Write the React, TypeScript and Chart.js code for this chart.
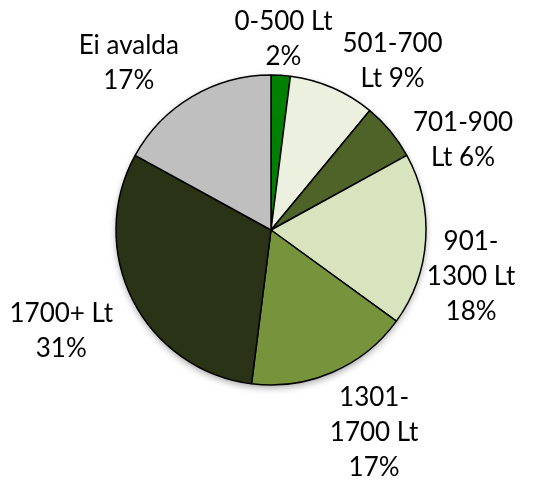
import React, { useEffect, useRef } from "react";
import { Chart, registerables } from "chart.js";

Chart.register(...registerables);

const categories = ["0-500 Lt", "501-700 Lt", "701-900 Lt", "901-1300 Lt", "1301-1700 Lt", "1700+ Lt", "Ei avalda"];
const shares = [2, 9, 6, 18, 17, 31, 17];
const sliceColors = ["#008000", "#EBF1DE", "#4F6228", "#D7E4BD", "#77933C", "#2A3316", "#BFBFBF"];

const FONT = "26px Lato, 'Open Sans', sans-serif";
const LINE_H = 35;
const WRAP_W = 108;
const GAP = 6;
const labelNudge: number[][] = [[0, 8], [37, 27], [21, 52], [-8, 34], [13, -5], [-11, 0], [-32, 20]];

function wrap(ctx: CanvasRenderingContext2D, text: string): string[] {
  const tokens = text.match(/[^\s-]+-?\s*/g) || [text];
  const lines: string[] = [];
  let cur = "";
  for (const t of tokens) {
    const cand = cur + t;
    if (cur && ctx.measureText(cand.trim()).width > WRAP_W) {
      lines.push(cur.trim());
      cur = t;
    } else {
      cur = cand;
    }
  }
  if (cur.trim()) lines.push(cur.trim());
  return lines;
}

const shadowPlugin = {
  id: "pieShadow",
  beforeDatasetsDraw(chart: any) {
    const meta = chart.getDatasetMeta(0);
    const arc = meta.data[0];
    if (!arc) return;
    const { x, y, outerRadius } = arc.getProps(["x", "y", "outerRadius"], true);
    const ctx = chart.ctx;
    ctx.save();
    ctx.shadowColor = "rgba(0,0,0,0.35)";
    ctx.shadowBlur = 7;
    ctx.shadowOffsetY = 3;
    ctx.fillStyle = "#fff";
    ctx.beginPath();
    ctx.arc(x, y, outerRadius, 0, Math.PI * 2);
    ctx.fill();
    ctx.restore();
  },
};

const labelPlugin = {
  id: "outLabels",
  afterDatasetsDraw(chart: any) {
    const ctx: CanvasRenderingContext2D = chart.ctx;
    const meta = chart.getDatasetMeta(0);
    const total = shares.reduce((a, b) => a + b, 0);
    ctx.save();
    ctx.font = FONT;
    ctx.fillStyle = "#000";
    ctx.textAlign = "center";
    ctx.textBaseline = "middle";
    meta.data.forEach((arc: any, i: number) => {
      const { x, y, startAngle, endAngle, outerRadius } = arc.getProps(
        ["x", "y", "startAngle", "endAngle", "outerRadius"],
        true
      );
      const mid = (startAngle + endAngle) / 2;
      const dx = Math.cos(mid);
      const dy = Math.sin(mid);
      const pct = Math.round((shares[i] / total) * 100) + "%";
      const lines = wrap(ctx, categories[i] + " " + pct);
      const w = Math.max(...lines.map((l) => ctx.measureText(l).width));
      const h = lines.length * LINE_H;
      const d = outerRadius + GAP + (Math.abs(dx) * w) / 2 + (Math.abs(dy) * h) / 2;
      const cx = x + dx * d + labelNudge[i][0];
      const cy = y + dy * d + labelNudge[i][1];
      lines.forEach((l, k) => ctx.fillText(l, cx, cy - h / 2 + LINE_H * (k + 0.5)));
    });
    ctx.restore();
  },
};

export default function App() {
  const ref = useRef<HTMLCanvasElement | null>(null);
  useEffect(() => {
    document.body.style.margin = "0";
    const canvas = ref.current;
    if (!canvas) return;
    const chart = new Chart(canvas, {
      type: "pie",
      data: {
        labels: categories,
        datasets: [
          {
            data: shares,
            backgroundColor: sliceColors,
            borderColor: "#000",
            borderWidth: 1.5,
          },
        ],
      },
      options: {
        responsive: false,
        animation: false,
        radius: 155,
        layout: { padding: { left: 4, right: 0, top: 0, bottom: 23 } },
        plugins: {
          legend: { display: false },
          tooltip: { enabled: false },
        },
      } as any,
      plugins: [shadowPlugin, labelPlugin],
    });
    return () => chart.destroy();
  }, []);
  return (
    <div style={{ width: 538, height: 483, background: "#fff" }}>
      <canvas ref={ref} width={538} height={483} style={{ display: "block" }} />
    </div>
  );
}
